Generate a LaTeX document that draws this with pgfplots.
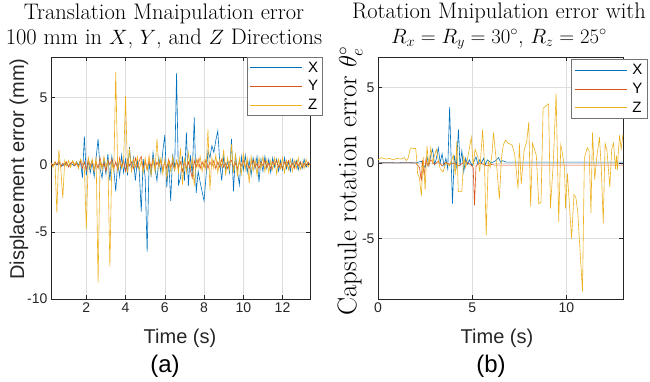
\documentclass[border=0pt]{standalone}
\usepackage{fontspec}
\setsansfont{Liberation Sans}
\usepackage{pgfplots}
\pgfplotsset{compat=1.18}
\definecolor{mblue}{rgb}{0,0.447,0.741}
\definecolor{morange}{rgb}{0.85,0.325,0.098}
\definecolor{myellow}{rgb}{0.929,0.694,0.125}
\pgfplotsset{
  mstyle/.style={
    anchor=south west, scale only axis,
    grid=major, grid style={line width=0.5pt, draw=black!13},
    axis line style={black!85, line width=0.5pt},
    tick style={black!85, line width=0.5pt},
    tick align=inside, tick pos=both, major tick length=4pt,
    ticklabel style={font=\sffamily\fontsize{14}{14}\selectfont, text=black!85},
    /pgf/number format/assume math mode=true,
    every axis plot/.append style={line width=0.6pt, mark=none},
    legend image code/.code={\draw[##1, line width=0.6pt] (0pt,0pt) -- (52pt,0pt);},
    legend cell align=left,
    legend style={draw=black!55, line width=0.6pt, fill=white,
      font=\sffamily\fontsize{15}{15}\selectfont,
      inner xsep=3pt, inner ysep=3pt, row sep=4pt,
      nodes={inner sep=1.5pt},
      /tikz/every odd column/.append style={column sep=4pt}},
  }
}
\begin{document}
\begin{tikzpicture}[x=1pt,y=1pt]
\useasboundingbox (0,0) rectangle (650,381);
% ---------------- (a) ----------------
\begin{axis}[mstyle, at={(51pt,82pt)}, width=259pt, height=242pt,
  xmin=0.2, xmax=13.4, ymin=-10, ymax=8,
  xtick={2,4,6,8,10,12}, ytick={-10,-5,0,5},
  legend style={at={(axis description cs:0.756,1)}, anchor=north west}]
\addplot[mblue] coordinates {
(0.2,0.05)(0.3,-0.1)(0.4,0.1)(0.5,-0.05)(0.6,0.15)(0.7,0.0)(0.8,-0.1)(0.9,0.1)(1.0,0.05)(1.1,-0.15)
(1.2,0.1)(1.3,0.0)(1.4,-0.1)(1.5,0.2)(1.6,-0.05)(1.7,0.3)(1.8,-1.0)(1.9,2.1)(2.0,-0.8)(2.1,0.3)
(2.2,-0.6)(2.3,0.2)(2.4,-0.9)(2.5,0.5)(2.6,1.9)(2.7,-0.3)(2.8,-1.0)(2.9,0.4)(3.0,-0.7)(3.1,0.8)
(3.2,-1.2)(3.3,0.6)(3.4,-0.3)(3.5,-2.0)(3.6,0.2)(3.7,-0.9)(3.8,0.7)(3.9,-0.6)(4.0,0.4)(4.1,-0.8)
(4.2,1.3)(4.3,-0.4)(4.4,0.5)(4.5,-1.2)(4.6,0.3)(4.7,-0.5)(4.8,-3.5)(4.9,0.4)(5.0,-1.0)(5.1,-6.5)
(5.2,0.2)(5.3,-0.8)(5.4,0.9)(5.5,-0.3)(5.6,-1.2)(5.7,0.5)(5.8,-0.6)(5.9,1.0)(6.0,2.2)(6.1,-1.7)
(6.2,0.3)(6.3,-2.7)(6.4,0.8)(6.5,-0.5)(6.6,6.8)(6.7,-1.5)(6.8,-1.0)(6.9,0.6)(7.0,-1.2)(7.1,2.4)
(7.2,-1.6)(7.3,0.7)(7.4,-0.8)(7.5,3.5)(7.6,-2.1)(7.7,-0.5)(7.8,-1.3)(7.9,-2.0)(8.0,-2.7)(8.1,-0.9)
(8.2,1.0)(8.3,0.5)(8.4,1.4)(8.5,0.9)(8.6,1.8)(8.7,2.5)(8.8,0.2)(8.9,-1.2)(9.0,0.6)(9.1,-0.4)
(9.2,0.3)(9.3,-0.6)(9.4,1.9)(9.5,-2.0)(9.6,0.8)(9.7,-0.5)(9.8,-1.5)(9.9,0.6)(10.0,-0.4)(10.1,0.7)
(10.2,-0.6)(10.3,0.3)(10.4,-0.8)(10.5,0.5)(10.6,-0.3)(10.7,0.6)(10.8,-1.3)(10.9,0.4)(11.0,-0.5)(11.1,0.6)
(11.2,-0.3)(11.3,0.4)(11.4,-0.6)(11.5,0.5)(11.6,-0.2)(11.7,0.4)(11.8,-0.5)(11.9,0.3)(12.0,-0.4)(12.1,0.5)
(12.2,-0.3)(12.3,0.2)(12.4,-0.5)(12.5,0.4)(12.6,-0.2)(12.7,0.3)(12.8,-0.4)(12.9,0.2)(13.0,-0.3)(13.1,0.4)
(13.2,-0.2)(13.3,0.1)(13.4,0.0)};
\addlegendentry{X\hspace{7pt}}
\addplot[morange] coordinates {
(0.2,0.1)(0.3,-0.1)(0.4,0.2)(0.5,0.0)(0.6,0.3)(0.7,-0.2)(0.8,0.1)(0.9,-0.1)(1.0,0.2)(1.1,-0.2)
(1.2,0.1)(1.3,0.2)(1.4,-0.1)(1.5,0.1)(1.6,-0.2)(1.7,0.3)(1.8,-0.3)(1.9,0.2)(2.0,-0.4)(2.1,0.4)
(2.2,-0.1)(2.3,0.3)(2.4,-0.4)(2.5,0.2)(2.6,-0.3)(2.7,0.5)(2.8,-0.2)(2.9,0.1)(3.0,-0.5)(3.1,0.3)
(3.2,0.0)(3.3,0.4)(3.4,-0.3)(3.5,0.2)(3.6,-0.4)(3.7,0.5)(3.8,-0.2)(3.9,0.3)(4.0,-0.5)(4.1,0.4)
(4.2,-0.1)(4.3,0.2)(4.4,-0.3)(4.5,0.5)(4.6,-0.2)(4.7,0.3)(4.8,0.6)(4.9,-0.3)(5.0,0.2)(5.1,-0.4)
(5.2,0.3)(5.3,-0.2)(5.4,0.4)(5.5,-0.3)(5.6,0.2)(5.7,-0.1)(5.8,0.3)(5.9,-0.4)(6.0,0.2)(6.1,-0.3)
(6.2,0.4)(6.3,-0.2)(6.4,0.1)(6.5,-0.4)(6.6,0.3)(6.7,-0.2)(6.8,0.2)(6.9,-0.5)(7.0,0.3)(7.1,-0.3)
(7.2,0.2)(7.3,-0.4)(7.4,-1.0)(7.5,0.3)(7.6,-0.2)(7.7,0.4)(7.8,-0.3)(7.9,0.2)(8.0,-0.2)(8.1,0.4)
(8.2,-0.3)(8.3,0.2)(8.4,-0.1)(8.5,0.3)(8.6,-0.3)(8.7,0.2)(8.8,-0.2)(8.9,0.4)(9.0,-0.2)(9.1,0.1)
(9.2,-0.3)(9.3,0.2)(9.4,0.3)(9.5,-0.2)(9.6,0.1)(9.7,-0.3)(9.8,0.2)(9.9,-0.1)(10.0,0.3)(10.1,-0.2)
(10.2,0.2)(10.3,-0.3)(10.4,0.1)(10.5,0.3)(10.6,-0.2)(10.7,0.1)(10.8,-0.3)(10.9,0.2)(11.0,-0.1)(11.1,0.3)
(11.2,-0.2)(11.3,0.1)(11.4,-0.3)(11.5,0.2)(11.6,0.0)(11.7,0.3)(11.8,-0.2)(11.9,0.1)(12.0,-0.3)(12.1,0.2)
(12.2,-0.1)(12.3,0.3)(12.4,-0.2)(12.5,0.1)(12.6,-0.3)(12.7,0.2)(12.8,-0.1)(12.9,0.2)(13.0,-0.2)(13.1,0.1)
(13.2,-0.1)(13.3,0.2)(13.4,0.0)};
\addlegendentry{Y\hspace{7pt}}
\addplot[myellow] coordinates {
(0.2,0.1)(0.3,-0.2)(0.4,0.2)(0.5,-3.6)(0.6,1.1)(0.7,-0.3)(0.8,-2.5)(0.9,0.3)(1.0,-0.1)(1.1,0.3)
(1.2,-0.2)(1.3,0.3)(1.4,0.0)(1.5,0.2)(1.6,-0.3)(1.7,0.4)(1.8,0.1)(1.9,-0.2)(2.0,-4.8)(2.1,0.5)
(2.2,-0.3)(2.3,0.4)(2.4,-0.5)(2.5,0.6)(2.6,-8.8)(2.7,0.3)(2.8,-0.4)(2.9,0.6)(3.0,-0.2)(3.1,0.3)
(3.2,-7.6)(3.3,0.2)(3.4,-0.5)(3.5,6.9)(3.6,-0.4)(3.7,0.3)(3.8,-0.3)(3.9,0.2)(4.0,5.1)(4.1,-0.6)
(4.2,1.2)(4.3,-0.5)(4.4,0.4)(4.5,-0.2)(4.6,0.6)(4.7,-0.4)(4.8,0.3)(4.9,-0.6)(5.0,0.5)(5.1,-0.4)
(5.2,0.7)(5.3,-0.8)(5.4,0.4)(5.5,-0.5)(5.6,1.9)(5.7,-0.3)(5.8,0.5)(5.9,-0.7)(6.0,0.4)(6.1,-1.0)
(6.2,0.3)(6.3,-0.5)(6.4,0.6)(6.5,-0.4)(6.6,0.3)(6.7,-0.6)(6.8,1.2)(6.9,-1.5)(7.0,0.4)(7.1,-0.6)
(7.2,0.9)(7.3,-0.3)(7.4,0.5)(7.5,-1.6)(7.6,0.4)(7.7,-0.2)(7.8,0.6)(7.9,-0.5)(8.0,0.3)(8.1,-0.4)
(8.2,2.6)(8.3,-1.9)(8.4,0.5)(8.5,-0.3)(8.6,0.7)(8.7,-0.6)(8.8,0.4)(8.9,-0.2)(9.0,1.1)(9.1,-0.8)
(9.2,0.5)(9.3,-0.4)(9.4,1.5)(9.5,-0.6)(9.6,0.7)(9.7,-0.9)(9.8,0.5)(9.9,-0.7)(10.0,0.8)(10.1,-0.4)
(10.2,0.5)(10.3,-1.4)(10.4,0.6)(10.5,-0.5)(10.6,0.4)(10.7,-0.8)(10.8,0.5)(10.9,-0.3)(11.0,0.6)(11.1,-0.5)
(11.2,0.4)(11.3,-0.6)(11.4,0.3)(11.5,-0.4)(11.6,0.5)(11.7,-0.7)(11.8,0.4)(11.9,-0.3)(12.0,0.5)(12.1,-0.6)
(12.2,0.3)(12.3,-0.4)(12.4,0.4)(12.5,-0.5)(12.6,0.3)(12.7,-0.3)(12.8,0.5)(12.9,-0.4)(13.0,0.2)(13.1,-0.3)
(13.2,0.4)(13.3,-0.2)(13.4,0.1)};
\addlegendentry{Z\hspace{7pt}}
\end{axis}
% ---------------- (b) ----------------
\begin{axis}[mstyle, at={(378pt,82pt)}, width=245pt, height=242pt,
  xmin=0, xmax=13, ymin=-9, ymax=7,
  xtick={0,5,10}, ytick={-5,0,5},
  legend style={at={(axis description cs:0.788,0.99)}, anchor=north west}]
\addplot[mblue] coordinates {
(0,0)(0.5,0.02)(1.0,0.0)(1.5,0.02)(2.0,0.0)(2.3,0.1)(2.5,-0.3)(2.6,0.4)(2.7,-0.2)(2.8,0.5)
(2.9,0.9)(3.0,-0.1)(3.1,0.3)(3.2,1.0)(3.3,0.0)(3.4,0.6)(3.5,-0.2)(3.6,0.3)(3.7,-0.4)(3.8,3.7)
(3.95,-2.7)(4.05,0.5)(4.15,-0.3)(4.27,2.2)(4.35,-0.2)(4.45,0.8)(4.55,-0.6)(4.65,0.3)(4.75,-0.1)(4.85,0.2)
(5.0,-0.2)(5.1,0.1)(5.2,0.4)(5.3,-0.1)(5.4,0.2)(5.5,0.0)(5.6,0.3)(5.7,-0.1)(5.8,0.2)(6.0,0.0)
(6.2,0.1)(6.4,0.35)(6.5,0.05)(6.6,0.15)(6.8,0.05)(7.0,0.05)(7.5,0.05)(8.0,0.05)(9.0,0.05)(10.0,0.05)(11.0,0.05)
(12.0,0.05)(13.0,0.05)};
\addlegendentry{X\hspace{7pt}}
\addplot[morange] coordinates {
(0,0)(1.0,0)(2.0,0)(2.2,-0.3)(2.3,-1.2)(2.35,0.2)(2.45,-0.8)(2.55,0.3)(2.65,-0.2)(2.8,0.2)
(3.0,-0.1)(3.2,0.1)(3.4,-0.2)(3.6,0.05)(3.8,-0.1)(4.0,0.0)(4.3,-0.2)(4.6,0.1)(4.9,-0.1)(5.05,-0.3)
(5.12,-2.8)(5.2,-0.2)(5.4,0.0)(5.6,-0.1)(5.8,-0.2)(6.0,-0.1)(6.2,-0.15)(7.0,-0.15)(8.0,-0.15)(9.0,-0.15)
(10.0,-0.15)(11.0,-0.15)(12.0,-0.15)(13.0,-0.15)};
\addlegendentry{Y\hspace{7pt}}
\addplot[myellow] coordinates {
(0.0,0.2)(0.2,0.35)(0.4,0.25)(0.6,0.3)(0.8,0.2)(1.0,0.3)(1.2,0.25)(1.4,0.35)(1.5,0.15)(1.6,0.3)
(1.7,0.9)(1.8,1.0)(1.9,0.95)(2.0,0.95)(2.05,0.3)(2.1,-0.7)(2.2,-1.0)(2.3,-2.2)(2.4,0.4)(2.5,-1.8)
(2.6,1.1)(2.7,-0.2)(2.8,1.0)(2.9,0.0)(3.0,0.5)(3.1,0.9)(3.2,0.2)(3.3,-0.4)(3.45,-0.6)(3.6,0.0)
(3.8,-0.2)(4.0,0.5)(4.1,-0.8)(4.18,1.4)(4.26,-1.9)(4.45,-1.9)(4.55,0.4)(4.65,-0.3)(4.8,0.6)(4.95,1.7)
(5.05,-0.2)(5.15,0.9)(5.3,0.4)(5.4,-0.6)(5.55,2.2)(5.65,0.0)(5.74,-4.8)(5.85,0.1)(5.95,-0.3)(6.05,0.6)
(6.13,2.0)(6.25,0.5)(6.44,-2.4)(6.55,0.3)(6.65,1.2)(6.76,1.5)(6.9,1.3)(7.1,1.2)(7.25,0.6)(7.43,-1.7)
(7.5,1.3)(7.6,-1.4)(7.75,0.8)(7.9,1.5)(8.0,2.7)(8.1,-2.9)(8.2,1.3)(8.3,0.9)(8.4,0.5)(8.53,-2.7)
(8.65,-2.6)(8.76,3.6)(8.95,3.8)(9.05,3.9)(9.15,-3.0)(9.3,0.0)(9.45,4.6)(9.59,-3.9)(9.7,1.2)(9.8,0.5)
(9.9,-0.4)(9.95,-3.0)(10.05,-0.7)(10.27,-5.0)(10.4,-2.1)(10.5,-2.3)(10.6,-3.3)(10.85,-8.5)(10.95,0.3)(11.1,1.0)
(11.2,0.8)(11.3,-3.3)(11.38,2.0)(11.5,-1.1)(11.6,0.3)(11.75,1.7)(11.85,-0.4)(11.95,-4.0)(12.05,1.3)(12.15,0.8)
(12.3,-1.6)(12.4,0.9)(12.5,1.3)(12.6,-0.4)(12.65,0.5)(12.7,-0.5)(12.75,0.7)(12.82,1.85)(12.9,0.9)(13.0,1.9)};
\addlegendentry{Z\hspace{7pt}}
\end{axis}
% ---------------- texts ----------------
\node[align=center, font=\fontsize{22.5}{25}\selectfont] at (164,355)
  {Translation Mnaipulation error\\100 mm in $X$, $Y$, and $Z$ Directions};
\node[align=center, font=\fontsize{22.5}{25}\selectfont] at (499,355)
  {Rotation Mnipulation error with\\$R_x=R_y=30^\circ$, $R_z=25^\circ$};
\node[font=\sffamily\fontsize{20}{20}\selectfont, text=black!85] at (180,43) {Time (s)};
\node[font=\sffamily\fontsize{20}{20}\selectfont, text=black!85] at (497,43) {Time (s)};
\node[font=\sffamily\fontsize{24}{24}\selectfont] at (165,15) {(a)};
\node[font=\sffamily\fontsize{24}{24}\selectfont] at (491,15) {(b)};
\node[rotate=90, font=\sffamily\fontsize{20}{20}\selectfont, text=black!85] at (19,212) {Displacement error (mm)};
\node[rotate=90, font=\fontsize{27}{27}\selectfont] at (350,200) {Capsule rotation error $\theta_e^\circ$};
\end{tikzpicture}
\end{document}
